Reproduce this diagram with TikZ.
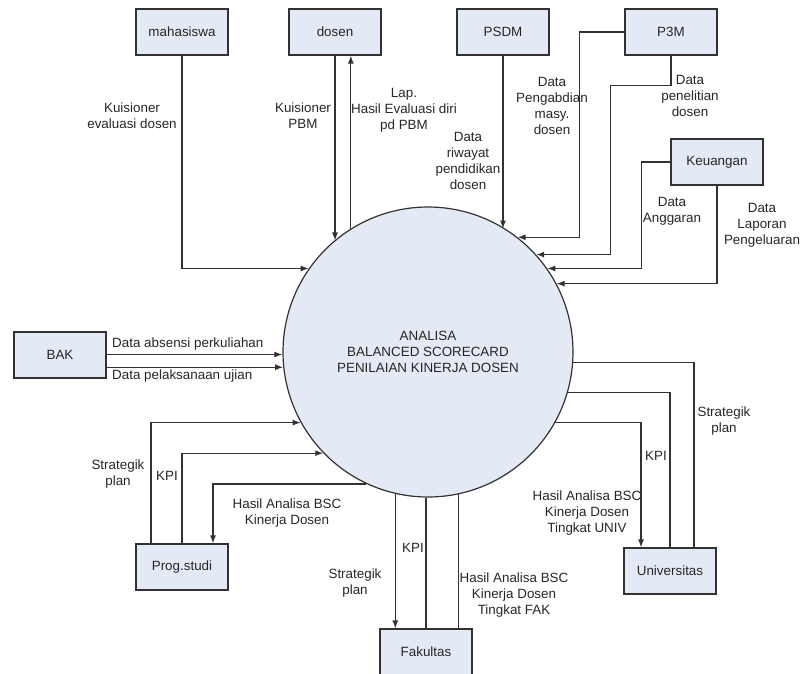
\documentclass[tikz,border=0pt]{standalone}
\usepackage{fontspec}
\setmainfont{Liberation Sans}
\usetikzlibrary{arrows.meta}
\definecolor{boxfill}{RGB}{228,234,245}
\definecolor{linegray}{RGB}{50,50,50}
\tikzset{
  ent/.style={draw=linegray, line width=1.2pt, fill=boxfill, minimum width=92pt,
    minimum height=46pt, inner sep=0pt, text=black!85,
    font=\fontsize{13.4}{16}\selectfont},
  proc/.style={circle, draw=linegray, line width=1.2pt, fill=boxfill,
    minimum size=290pt, inner sep=0pt, align=center, text=black!85,
    font=\fontsize{13.4}{16}\selectfont},
  lbl/.style={align=center, inner sep=0pt, text=black!85,
    font=\fontsize{13.4}{16}\selectfont},
  flow/.style={draw=linegray, line width=1.2pt, -{Latex[length=8pt,width=6pt]}},
  link/.style={draw=linegray, line width=1.2pt},
}

\begin{document}
\begin{tikzpicture}[x=1pt,y=-1pt]
	%%%%% START %%%%%
	\useasboundingbox (0,0) rectangle (802,673);
	
	\node[proc] (ana) at (428,352) {ANALISA\\BALANCED SCORECARD\\PENILAIAN KINERJA DOSEN};
	
	\node[ent] (mhs) at (182,32) {mahasiswa};
	\node[ent] (dsn) at (335,32) {dosen};
	\node[ent] (psdm) at (503,32) {PSDM};
	\node[ent] (ppm) at (671,32) {P3M};
	\node[ent] (keu) at (717,162) {Keuangan};
	\node[ent] (bak) at (60,355) {BAK};
	\node[ent] (prodi) at (182,567) {Prog.studi};
	\node[ent] (fak) at (426,652) {Fakultas};
	\node[ent] (univ) at (670,571) {Universitas};
	
	% atas
	\draw[flow] (mhs.south) |- (ana.145);
	\draw[flow] (dsn.south) -- (dsn.south |- ana.130);
	\draw[flow] (ana.122) -- (ana.122 |- dsn.south);
	\draw[flow] (psdm.south) -- (psdm.south |- ana.58);
	\draw[flow] (ppm.west) -| ([xshift=62]ana.52) -- (ana.52);
	\draw[flow] (ppm.south) -- ++(0,30) -| ([xshift=74]ana.42) -- (ana.42);
	\draw[flow] (keu.west) -| ([xshift=94]ana.35) -- (ana.35);
	\draw[flow] (keu.south) |- (ana.28);
	
	% kiri
	\draw[flow] (bak.east |- ana.181) -- (ana.181);
	\draw[flow] (bak.east |- ana.186) -- (ana.186);
	\draw[flow] ([xshift=-31]prodi.north) |- (ana.209);
	\draw[flow] (prodi.north) |- (ana.224);
	\draw[flow] (ana.245) -| ([xshift=31]prodi.north);
	
	% bawah
	\draw[flow] (ana.257) -- (ana.257 |- fak.north);
	\draw[link] (fak.north) -- (fak.north |- ana.south);
	\draw[link] (ana.282) -- (ana.282 |- fak.north);
	\draw[link] (ana.356) -| ([xshift=24]univ.north);
	\draw[link] (ana.344) -| (univ.north);
	\draw[flow] (ana.331) -| ([xshift=-29]univ.north);
	
	% label
	\node[lbl] (l-mhs) at (132,116) {Kuisioner\\evaluasi dosen};
	\node[lbl] (l-pbm) at (303,116) {Kuisioner\\PBM};
	\node[lbl] (l-lap) at (404,110) {Lap.\\Hasil Evaluasi diri\\pd PBM};
	\node[lbl] (l-psdm) at (468,161) {Data\\riwayat\\pendidikan\\dosen};
	\node[lbl] (l-abdi) at (552,106) {Data\\Pengabdian\\masy.\\dosen};
	\node[lbl] (l-teliti) at (690,96) {Data\\penelitian\\dosen};
	\node[lbl] (l-angg) at (672,211) {Data\\Anggaran};
	\node[lbl] (l-lapkeu) at (762,225) {Data\\Laporan\\Pengeluaran};
	\node[lbl, anchor=west] (l-absen) at (112,344) {Data absensi perkuliahan};
	\node[lbl, anchor=west] (l-ujian) at (112,376) {Data pelaksanaan ujian};
	\node[lbl] (l-sp1) at (118,474) {Strategik\\plan};
	\node[lbl] (l-kpi1) at (167,476) {KPI};
	\node[lbl] (l-bsc1) at (287,513) {Hasil Analisa BSC\\Kinerja Dosen};
	\node[lbl] (l-sp2) at (355,583) {Strategik\\plan};
	\node[lbl] (l-kpi2) at (413,548) {KPI};
	\node[lbl] (l-bsc2) at (514,595) {Hasil Analisa BSC\\Kinerja Dosen\\Tingkat FAK};
	\node[lbl] (l-sp3) at (724,421) {Strategik\\plan};
	\node[lbl] (l-kpi3) at (656,456) {KPI};
	\node[lbl] (l-bsc3) at (587,513) {Hasil Analisa BSC\\Kinerja Dosen\\Tingkat UNIV};
	
	%%%%% END %%%%%
\end{tikzpicture}
\end{document}
